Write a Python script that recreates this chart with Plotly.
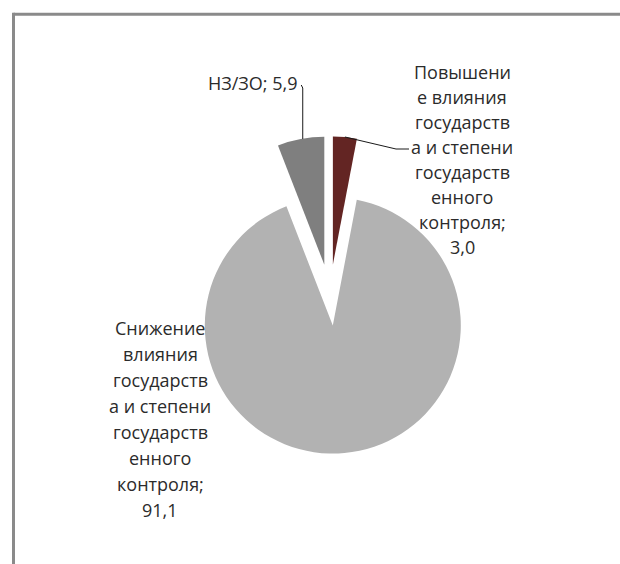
import math
import plotly.graph_objects as go

# ---- data ----
categories = [
    "Повышение влияния государства и степени государственного контроля",
    "Снижение влияния государства и степени государственного контроля",
    "НЗ/ЗО",
]
values = [3.0, 91.1, 5.9]
value_labels = ["3,0", "91,1", "5,9"]
label_lines = [
    ["Повышени", "е влияния", "государств", "а и степени", "государств", "енного", "контроля;"],
    ["Снижение", "влияния", "государств", "а и степени", "государств", "енного", "контроля;"],
    ["НЗ/ЗО;"],
]
colors = ["#632523", "#B2B2B2", "#7F7F7F"]

W, H = 620, 564
PULL = 0.24
CX, CY = 330, 295          # pie centre in pixels (from top-left)
R = 128                    # slice radius in pixels
half = R * (1 + PULL)

def px(x):
    return x / W

def py(y):
    return 1 - y / H

fig = go.Figure()
fig.add_trace(go.Pie(
    labels=categories,
    values=values,
    sort=False,
    direction="clockwise",
    rotation=0,
    pull=[PULL] * len(values),
    marker=dict(colors=colors, line=dict(width=0)),
    textinfo="none",
    hoverinfo="label+value",
    showlegend=False,
    domain=dict(x=[px(CX - half), px(CX + half)], y=[py(CY + half), py(CY - half)]),
))

# slice bisector points on the outer arc (computed from the values)
total = sum(values)
edge = []
acc = 0.0
for v in values:
    mid = (acc + v / 2) / total * 2 * math.pi
    acc += v
    d = R * (1 + PULL)
    edge.append((CX + d * math.sin(mid), CY - d * math.cos(mid)))

font = dict(family="Open Sans", size=18, color="#2b2b2b")

annotations = []

def add_block(lines, xc, y_first, step):
    for k, t in enumerate(lines):
        annotations.append(dict(
            x=px(xc), y=py(y_first + k * step), text=t,
            xanchor="center", yanchor="middle",
        ))

add_block(label_lines[0] + [value_labels[0]], 462, 72, 25.0)
add_block(label_lines[1] + [value_labels[1]], 160, 328, 26.0)
annotations.append(dict(x=px(300), y=py(83), text=label_lines[2][0] + " " + value_labels[2],
                        xanchor="right", yanchor="middle"))
for a in annotations:
    a.update(xref="paper", yref="paper", showarrow=False, font=font, align="center")

frame = dict(color="#8A8A8A", width=3)
shapes = [
    # chart frame (cropped on right/bottom)
    dict(type="line", xref="paper", yref="paper", x0=px(13.5), y0=py(14.3), x1=1, y1=py(14.3), line=frame),
    dict(type="line", xref="paper", yref="paper", x0=px(13.5), y0=py(12.8), x1=px(13.5), y1=0, line=frame),
    # leader for first slice
    dict(type="path", xref="paper", yref="paper",
         path=f"M {px(edge[0][0])},{py(edge[0][1])} L {px(396)},{py(149)} L {px(409)},{py(149)}",
         line=dict(color="#1a1a1a", width=1)),
    # leader for third slice
    dict(type="path", xref="paper", yref="paper",
         path=f"M {px(edge[2][0] + 2)},{py(edge[2][1])} L {px(edge[2][0] + 2)},{py(88)} L {px(edge[2][0] + 0.5)},{py(85)}",
         line=dict(color="#1a1a1a", width=1)),
]

fig.update_layout(
    width=W, height=H,
    margin=dict(l=0, r=0, t=0, b=0),
    paper_bgcolor="white",
    plot_bgcolor="white",
    annotations=annotations,
    shapes=shapes,
)

fig.write_html(
    "out.html",
    config={"displayModeBar": False},
    post_script="document.body.style.margin='0';document.body.style.overflow='hidden';",
)
